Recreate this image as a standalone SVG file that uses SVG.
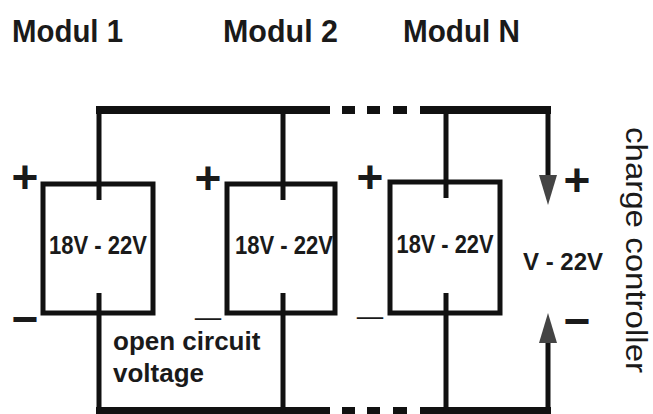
<svg xmlns="http://www.w3.org/2000/svg" width="653" height="414" viewBox="0 0 653 414">
  <style>
    .box { fill: none; stroke: #111; stroke-width: 5; }
    .wire { fill: none; stroke: #111; stroke-width: 5; }
    .bus { fill: none; stroke: #111; stroke-width: 8; }
    .t { font-family: "Liberation Sans", Arial, sans-serif; font-weight: bold; fill: #1a1a1a; }
    .title { font-size: 32px; }
    .val { font-size: 25px; text-anchor: middle; }
    .sign { font-size: 46px; text-anchor: middle; }
    .thin { font-size: 46px; text-anchor: middle; }
    .lbl { font-size: 26px; }
  </style>
  <defs>
    <marker id="arr" viewBox="0 0 30 18" markerWidth="30" markerHeight="18" refX="8" refY="9" orient="auto" markerUnits="userSpaceOnUse">
      <path d="M0,0 L30,9 L0,18 z" fill="#444"/>
    </marker>
  </defs>

  <g id="titles">
    <text class="t title" x="12" y="42" textLength="111" lengthAdjust="spacingAndGlyphs">Modul 1</text>
    <text class="t title" x="223" y="42" textLength="115" lengthAdjust="spacingAndGlyphs">Modul 2</text>
    <text class="t title" x="403" y="42" textLength="117" lengthAdjust="spacingAndGlyphs">Modul N</text>
  </g>

  <g id="connectors">
    <!-- top bus -->
    <line class="bus" x1="96" y1="110" x2="330" y2="110"/>
    <line class="bus" x1="342" y1="110" x2="355" y2="110"/>
    <line class="bus" x1="367" y1="110" x2="380" y2="110"/>
    <line class="bus" x1="393" y1="110" x2="407" y2="110"/>
    <line class="bus" x1="420" y1="110" x2="551" y2="110"/>
    <!-- bottom bus -->
    <line class="bus" x1="96" y1="411" x2="330" y2="411"/>
    <line class="bus" x1="342" y1="411" x2="355" y2="411"/>
    <line class="bus" x1="367" y1="411" x2="380" y2="411"/>
    <line class="bus" x1="393" y1="411" x2="407" y2="411"/>
    <line class="bus" x1="420" y1="411" x2="551" y2="411"/>
    <!-- module stubs -->
    <line class="wire" x1="99" y1="110" x2="99" y2="200"/>
    <line class="wire" x1="99" y1="293" x2="99" y2="411"/>
    <line class="wire" x1="283" y1="110" x2="283" y2="200"/>
    <line class="wire" x1="283" y1="293" x2="283" y2="411"/>
    <line class="wire" x1="446" y1="110" x2="446" y2="198"/>
    <line class="wire" x1="446" y1="293" x2="446" y2="411"/>
    <!-- to charge controller -->
    <line class="wire" x1="548" y1="108" x2="548" y2="183" stroke="#222" marker-end="url(#arr)"/>
    <line class="wire" x1="548" y1="411" x2="548" y2="335" stroke="#222" marker-end="url(#arr)"/>
  </g>

  <g id="modul1">
    <rect class="box" x="43" y="184" width="110" height="129"/>
    <text class="t val" x="98" y="254" textLength="98" lengthAdjust="spacingAndGlyphs">18V - 22V</text>
    <text class="t sign" x="25" y="193">+</text>
    <text class="t sign" x="25" y="335">−</text>
  </g>

  <g id="modul2">
    <rect class="box" x="227" y="184" width="108" height="129"/>
    <text class="t val" x="284" y="254" textLength="98" lengthAdjust="spacingAndGlyphs">18V - 22V</text>
    <text class="t sign" x="208" y="194">+</text>
    <text class="t thin" x="208" y="314">_</text>
  </g>

  <g id="modulN">
    <rect class="box" x="390" y="182" width="110" height="131"/>
    <text class="t val" x="445" y="253" textLength="97" lengthAdjust="spacingAndGlyphs">18V - 22V</text>
    <text class="t sign" x="370" y="193">+</text>
    <text class="t thin" x="370" y="313">_</text>
  </g>

  <g id="charge-controller">
    <text class="t sign" x="577" y="196">+</text>
    <text class="t sign" x="577" y="337">−</text>
    <text class="t" x="523" y="270" style="font-size:24px">V - 22V</text>
    <text class="t" x="626" y="127" transform="rotate(90 626 127)" style="font-size:29px;font-weight:normal" textLength="246" lengthAdjust="spacingAndGlyphs">charge controller</text>
  </g>

  <g id="open-circuit-label">
    <text class="t lbl" x="113" y="350">open circuit</text>
    <text class="t lbl" x="113" y="382">voltage</text>
  </g>
</svg>
